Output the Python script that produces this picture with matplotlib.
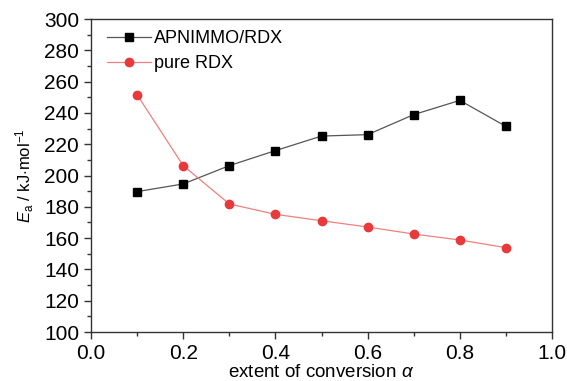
import matplotlib
matplotlib.use('Agg')
import matplotlib.pyplot as plt
from matplotlib.ticker import MultipleLocator

# data
alpha = [0.1, 0.2, 0.3, 0.4, 0.5, 0.6, 0.7, 0.8, 0.9]
ea_apnimmo = [189.7, 194.6, 206.3, 215.9, 225.2, 226.1, 238.9, 248.0, 231.4]
ea_rdx = [251.6, 206.3, 181.8, 175.2, 171.1, 167.1, 162.6, 158.8, 153.9]
labels = ['APNIMMO/RDX', 'pure RDX']

fam = 'Liberation Sans'
plt.rcParams['font.family'] = [fam, 'DejaVu Sans']
plt.rcParams['mathtext.fontset'] = 'custom'
plt.rcParams['mathtext.it'] = fam + ':italic'
plt.rcParams['mathtext.rm'] = fam

fig = plt.figure(figsize=(5.67, 3.81), dpi=100)
ax = fig.add_axes([91 / 567, 1 - 332 / 381, (552 - 91) / 567, (332 - 19) / 381])

ax.plot(alpha, ea_apnimmo, color='#555555', lw=0.9, marker='s', ms=5.8,
        mfc='black', mec='black', label=labels[0])
ax.plot(alpha, ea_rdx, color='#f08080', lw=0.9, marker='o', ms=6,
        mfc='#e83a3a', mec='#e83a3a', label=labels[1])

ax.set_xlim(0, 1.0)
ax.set_ylim(100, 300)
ax.xaxis.set_major_locator(MultipleLocator(0.2))
ax.xaxis.set_minor_locator(MultipleLocator(0.1))
ax.yaxis.set_major_locator(MultipleLocator(20))
ax.yaxis.set_minor_locator(MultipleLocator(10))
ax.tick_params(which='both', direction='out', top=False, right=False,
               labelsize=15, width=1, color='#333333')
ax.tick_params(which='major', length=5)
ax.tick_params(which='minor', length=3)
for s in ax.spines.values():
    s.set_color('#333333')
    s.set_linewidth(1)

ax.set_xlabel(r'extent of conversion $\alpha$', fontsize=13.5, labelpad=1)
ax.set_ylabel(r'$E_{\rm a}$ / kJ$\cdot$mol$^{-1}$', fontsize=12, labelpad=6)

ax.legend(loc='upper left', fontsize=13, frameon=False, handlelength=2.4,
          handletextpad=0.2, borderaxespad=0.2, labelspacing=0.45,
          bbox_to_anchor=(0.012, 1.0))

fig.savefig('out.png', dpi=100)
